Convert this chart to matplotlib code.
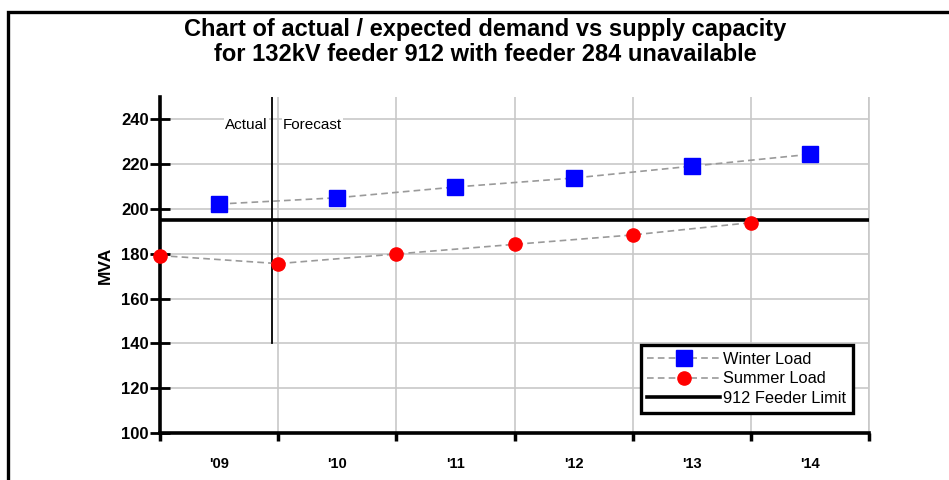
import numpy as np
import matplotlib.pyplot as plt
from matplotlib.patches import Rectangle

plt.rcParams['font.family'] = ['Liberation Sans', 'DejaVu Sans']

# half-year positions: summer on the year boundaries, winter mid-year
years = ["'09", "'10", "'11", "'12", "'13", "'14"]
summer_x = [0, 1, 2, 3, 4, 5]
winter_x = [0.5, 1.5, 2.5, 3.5, 4.5, 5.5]
winter_load = [202.2, 205.0, 209.8, 213.8, 219.1, 224.4]
summer_load = [179.2, 175.6, 179.9, 184.2, 188.4, 193.9]
feeder_limit = 195
forecast_start = 0.95

fig = plt.figure(figsize=(9.49, 4.8), dpi=100)
ax = fig.add_axes([0.1686, 0.098, 0.7471, 0.700])

# outer frame round the whole chart
fig.patches.append(Rectangle((8 / 949, -0.1), 1.2, 0.975 + 0.1, transform=fig.transFigure,
                             fill=False, edgecolor='black', linewidth=2.4, zorder=0))

ax.plot(winter_x, winter_load, linestyle=(0, (4, 2.5)), color='#9a9a9a', linewidth=1.2,
        marker='s', markersize=11, markerfacecolor='#0000ff', markeredgecolor='#0000ff',
        label='Winter Load', zorder=4)
ax.plot(summer_x, summer_load, linestyle=(0, (4, 2.5)), color='#9a9a9a', linewidth=1.2,
        marker='o', markersize=9.5, markerfacecolor='#ff0000', markeredgecolor='#ff0000',
        label='Summer Load', zorder=4, clip_on=False)
ax.axhline(feeder_limit, color='black', linewidth=2.6, label='912 Feeder Limit', zorder=3)

# actual / forecast divider
ax.plot([forecast_start, forecast_start], [140, 250], color='black', linewidth=1.3, zorder=3)
ax.text(forecast_start - 0.04, 237.5, 'Actual', ha='right', va='center', fontsize=11,
        bbox=dict(facecolor='white', edgecolor='none', pad=1), zorder=2)
ax.text(forecast_start + 0.09, 237.5, 'Forecast', ha='left', va='center', fontsize=11,
        bbox=dict(facecolor='white', edgecolor='none', pad=1), zorder=2)

ax.set_xlim(0, 6)
ax.set_ylim(100, 250)
ax.set_yticks(np.arange(100, 241, 20))
ax.set_xticks(np.arange(0, 7))
ax.set_xticklabels([])
ax.set_xticks(winter_x, minor=True)
ax.set_xticklabels(years, minor=True, fontsize=10.5, fontweight='bold')
ax.tick_params(axis='x', which='minor', length=0, pad=17)
ax.tick_params(axis='x', which='major', direction='out', length=6, width=2.5)
ax.tick_params(axis='y', direction='inout', length=14, width=2, labelsize=12, pad=1)
for lbl in ax.get_yticklabels():
    lbl.set_fontweight('bold')

ax.grid(True, which='major', color='#c8c8c8', linewidth=1.2, zorder=0)
ax.set_axisbelow(True)
for side in ['top', 'right']:
    ax.spines[side].set_visible(False)
ax.spines['left'].set_linewidth(2.6)
ax.spines['bottom'].set_linewidth(2.6)
ax.vlines(6, 100, 250, color='#c8c8c8', linewidth=1.2, zorder=0, clip_on=False)

ax.set_ylabel('MVA', fontsize=12.5, fontweight='bold', labelpad=6)

fig.suptitle('Chart of actual / expected demand vs supply capacity\n'
             'for 132kV feeder 912 with feeder 284 unavailable',
             x=0.511, y=0.963, fontsize=17, fontweight='bold', linespacing=1.12)

leg = ax.legend(loc='lower right', bbox_to_anchor=(0.984, 0.045), fontsize=11.8, fancybox=False,
                framealpha=1, edgecolor='black', borderpad=0.42, labelspacing=0.28,
                handlelength=4.4, handletextpad=0.2, borderaxespad=0.3)
leg.get_frame().set_linewidth(2.4)

fig.savefig('out.png', dpi=100)
